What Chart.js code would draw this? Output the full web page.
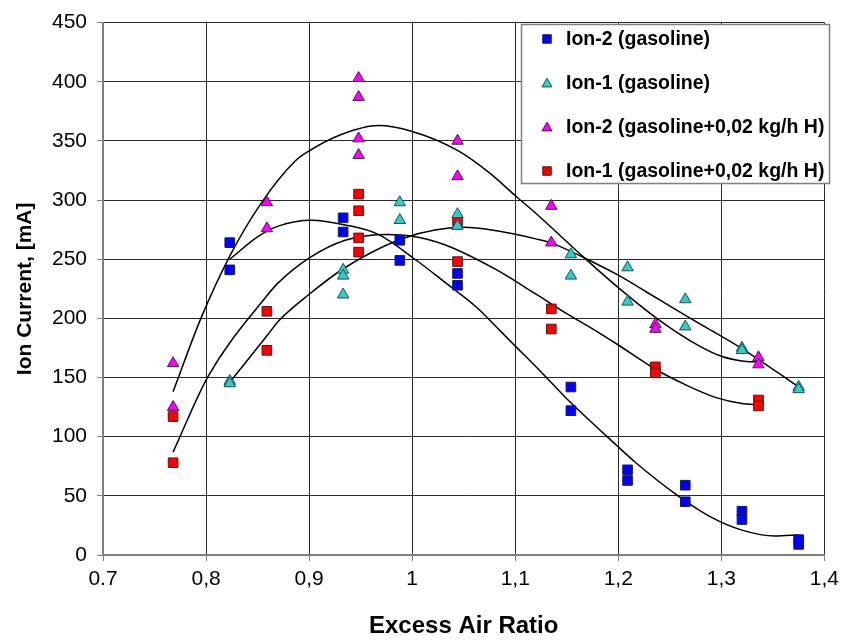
<!DOCTYPE html>
<html>
<head>
<meta charset="utf-8">
<script src="https://cdn.jsdelivr.net/npm/chart.js@4.4.1/dist/chart.umd.min.js"></script>
<style>
  html, body { margin: 0; padding: 0; background: #ffffff; }
  #c { display: block; }
</style>
</head>
<body>
<canvas id="c" width="845" height="641"></canvas>
<script>
// ---------------- DATA ----------------
const seriesNames = [
  'Ion-2 (gasoline)',
  'Ion-1 (gasoline)',
  'Ion-2 (gasoline+0,02 kg/h H)',
  'Ion-1 (gasoline+0,02 kg/h H)'
];

const xTickLabels = ['0.7', '0,8', '0,9', '1', '1,1', '1,2', '1,3', '1,4'];
const yTickLabels = ['0', '50', '100', '150', '200', '250', '300', '350', '400', '450'];

// Ion-2 (gasoline) - blue squares
const ion2GasX = [0.823, 0.823, 0.933, 0.933, 0.988, 0.988, 1.044, 1.044, 1.154, 1.154, 1.209, 1.209, 1.265, 1.265, 1.320, 1.320, 1.375, 1.375];
const ion2GasY = [264, 241, 285, 273, 266, 249, 238, 228, 142, 122, 72, 63, 59, 45, 37, 30, 13, 9];

// Ion-1 (gasoline) - cyan triangles
const ion1GasX = [0.823, 0.823, 0.933, 0.933, 0.933, 0.988, 0.988, 1.044, 1.044, 1.154, 1.154, 1.209, 1.209, 1.265, 1.265, 1.320, 1.320, 1.375, 1.375];
const ion1GasY = [147, 145, 241, 236, 220, 298, 283, 288, 278, 254, 236, 243, 214, 216, 193, 175, 173, 142, 140];

// Ion-2 (gasoline+0,02 kg/h H) - magenta triangles
const ion2HX = [0.768, 0.768, 0.859, 0.859, 0.948, 0.948, 0.948, 0.948, 1.044, 1.044, 1.135, 1.135, 1.236, 1.236, 1.336, 1.336];
const ion2HY = [162, 125, 298, 276, 403, 387, 352, 338, 350, 320, 295, 264, 195, 191, 167, 161];

// Ion-1 (gasoline+0,02 kg/h H) - red squares
const ion1HX = [0.768, 0.768, 0.859, 0.859, 0.948, 0.948, 0.948, 0.948, 1.044, 1.044, 1.135, 1.135, 1.236, 1.236, 1.336, 1.336];
const ion1HY = [117, 78, 206, 173, 305, 291, 268, 256, 282, 248, 208, 191, 159, 154, 131, 126];

// Trend lines
const trendIon2GasX = [0.823, 0.851, 0.870, 0.9025, 0.935, 0.967, 1.005, 1.031, 1.063, 1.082, 1.095, 1.127, 1.150, 1.198, 1.217, 1.258, 1.290, 1.320, 1.352, 1.375];
const trendIon2GasY = [250, 269.5, 278, 283, 279, 271, 248.5, 231, 209, 192.5, 181, 153, 132, 93, 78, 50, 32, 21, 16, 17];

const trendIon1GasX = [0.823, 0.861, 0.8706, 0.901, 0.935, 0.9925, 1.050, 1.082, 1.121, 1.134, 1.179, 1.200, 1.227, 1.268, 1.320, 1.375];
const trendIon1GasY = [146, 187.5, 198, 221, 243, 268, 277, 274, 267, 264, 246, 236.5, 222.5, 201, 174.5, 142];

const trendIon2HX = [0.768, 0.795, 0.822, 0.854, 0.8865, 0.899, 0.930, 0.967, 1.000, 1.044, 1.075, 1.101, 1.121, 1.166, 1.200, 1.239, 1.278, 1.300, 1.320, 1.336];
const trendIon2HY = [138, 200, 251, 298, 333, 341, 355, 363, 358, 342, 323, 303, 288, 252, 226, 199, 177, 168, 164, 163];

const trendIon1HX = [0.768, 0.802, 0.858, 0.870, 0.901, 0.935, 0.976, 1.000, 1.031, 1.082, 1.121, 1.150, 1.179, 1.200, 1.236, 1.265, 1.295, 1.320, 1.336];
const trendIon1HY = [87, 151, 218, 230, 251.5, 266, 271, 269.5, 262.5, 241, 220, 204, 189, 177.5, 157, 144, 133, 128, 127];

// ---------------- BUILD ----------------
const zip = (xs, ys) => xs.map((x, i) => ({ x: x, y: ys[i] }));
const FONT = "'Liberation Sans', Arial, Helvetica, sans-serif";

function scatterSet(label, xs, ys, style, color, border) {
  return {
    type: 'scatter',
    label: label,
    data: zip(xs, ys),
    pointStyle: style,
    pointRadius: style === 'rect' ? 6.8 : 6.6,
    pointBackgroundColor: color,
    pointBorderColor: border,
    pointBorderWidth: 1,
    showLine: false,
    order: 1,
    isSeries: true
  };
}
function trendSet(xs, ys) {
  return {
    type: 'line',
    label: '',
    data: zip(xs, ys),
    borderColor: '#000000',
    borderWidth: 1.5,
    pointRadius: 0,
    fill: false,
    cubicInterpolationMode: 'monotone',
    order: 2,
    isSeries: false
  };
}

const datasets = [
  trendSet(trendIon2GasX, trendIon2GasY),
  trendSet(trendIon1GasX, trendIon1GasY),
  trendSet(trendIon2HX, trendIon2HY),
  trendSet(trendIon1HX, trendIon1HY),
  scatterSet(seriesNames[0], ion2GasX, ion2GasY, 'rect', '#0000FF', '#1a1a4a'),
  scatterSet(seriesNames[1], ion1GasX, ion1GasY, 'triangle', '#33CCCC', '#1f4f4f'),
  scatterSet(seriesNames[2], ion2HX, ion2HY, 'triangle', '#FF00FF', '#4a1a4a'),
  scatterSet(seriesNames[3], ion1HX, ion1HY, 'rect', '#FF0000', '#4a1a1a')
];

function drawMarker(ctx, style, x, y, r, fill, stroke) {
  ctx.save();
  ctx.fillStyle = fill;
  ctx.strokeStyle = stroke;
  ctx.lineWidth = 1;
  ctx.beginPath();
  if (style === 'rect') {
    const s = r / Math.SQRT2;
    ctx.rect(x - s, y - s, 2 * s, 2 * s);
  } else {
    ctx.moveTo(x, y - r);
    ctx.lineTo(x + r * Math.sin(Math.PI / 3), y + r / 2);
    ctx.lineTo(x - r * Math.sin(Math.PI / 3), y + r / 2);
    ctx.closePath();
  }
  ctx.fill();
  ctx.stroke();
  ctx.restore();
}

const boxLegend = {
  id: 'boxLegend',
  afterDraw(chart) {
    const ctx = chart.ctx;
    const left = 521, top = 24, w = 308, h = 159;
    ctx.save();
    ctx.fillStyle = '#ffffff';
    ctx.fillRect(left, top, w, h);
    ctx.strokeStyle = '#808080';
    ctx.lineWidth = 1.5;
    ctx.strokeRect(left + 0.5, top + 0.5, w, h);
    const items = chart.data.datasets.filter(d => d.isSeries);
    items.forEach((d, i) => {
      const cy = top + 15 + i * 44;
      drawMarker(ctx, d.pointStyle, 547, cy + (d.pointStyle === 'triangle' ? 1 : 0), d.pointRadius - 0.8, d.pointBackgroundColor, d.pointBorderColor);
      ctx.fillStyle = '#000000';
      ctx.font = 'bold 19.5px ' + FONT;
      ctx.textAlign = 'left';
      ctx.textBaseline = 'middle';
      ctx.fillText(d.label, 566, cy + 1);
    });
    ctx.restore();
  }
};

new Chart(document.getElementById('c'), {
  type: 'scatter',
  data: { datasets: datasets },
  options: {
    responsive: false,
    animation: false,
    events: [],
    layout: { padding: { left: 0, right: 18, top: 20, bottom: 0 } },
    plugins: { legend: { display: false }, tooltip: { enabled: false } },
    scales: {
      x: {
        type: 'linear',
        min: 0.7, max: 1.4,
        afterFit: s => { s.height = 86; },
        ticks: {
          stepSize: 0.1,
          color: '#000000',
          padding: 6,
          font: { family: FONT, size: 21 },
          maxRotation: 0,
          autoSkip: false,
          callback: v => xTickLabels[Math.round((v - 0.7) / 0.1)]
        },
        grid: { color: '#2a2a2a', lineWidth: 1, tickLength: 6, tickColor: '#808080' },
        border: { color: '#808080', width: 2 },
        title: {
          display: true,
          text: 'Excess Air Ratio',
          color: '#000000',
          font: { family: FONT, size: 24, weight: 'bold' },
          padding: { top: 0, bottom: 0 }
        }
      },
      y: {
        type: 'linear',
        min: 0, max: 450,
        afterFit: s => { s.width = 103; },
        ticks: {
          stepSize: 50,
          color: '#000000',
          padding: 10,
          font: { family: FONT, size: 21 },
          autoSkip: false,
          callback: v => yTickLabels[Math.round(v / 50)]
        },
        grid: { color: '#2a2a2a', lineWidth: 1, tickLength: 6, tickColor: '#808080' },
        border: { color: '#808080', width: 2 },
        title: {
          display: true,
          text: 'Ion Current, [mA]',
          color: '#000000',
          font: { family: FONT, size: 21, weight: 'bold' },
          padding: { top: 13, bottom: 0 }
        }
      }
    }
  },
  plugins: [boxLegend]
});
</script>
</body>
</html>
